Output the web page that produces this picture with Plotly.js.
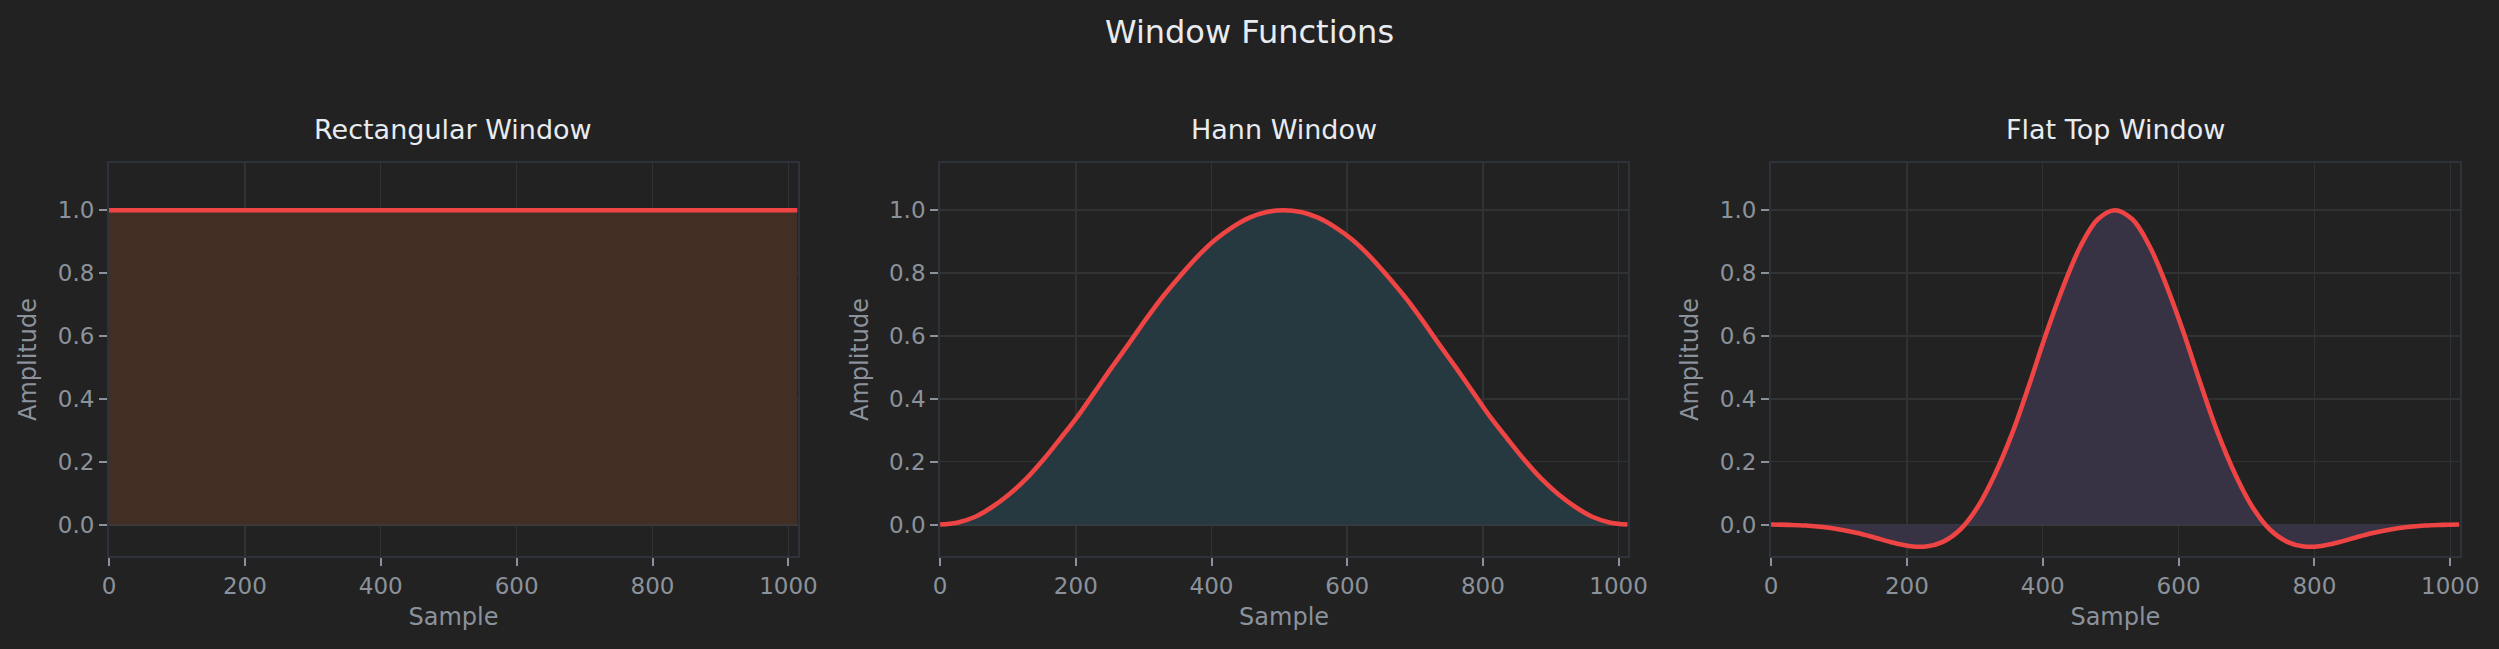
<!DOCTYPE html>
<html lang="en">
<head>
  <meta charset="UTF-8">
  <title>Window Functions</title>
  <script src="https://cdn.plot.ly/plotly-3.0.1.min.js" charset="utf-8"></script>
  <style>
    html, body { margin: 0; padding: 0; background: #222222; }
  </style>
</head>
<body>
  <div id="chart" style="width:2499px;height:649px;"></div>
  <script>
    // sample positions (0 .. ~1013)
    var samples = [0, 25, 51, 76, 101, 127, 152, 177, 203, 228, 253, 279, 304, 329, 355, 380, 405, 431, 456, 481,
                   506, 532, 557, 582, 608, 633, 658, 684, 709, 734, 760, 785, 810, 836, 861, 886, 912, 937, 962, 988, 1013];

    var rectangular = [1, 1, 1, 1, 1, 1, 1, 1, 1, 1, 1, 1, 1, 1, 1, 1, 1, 1, 1, 1,
                       1, 1, 1, 1, 1, 1, 1, 1, 1, 1, 1, 1, 1, 1, 1, 1, 1, 1, 1, 1, 1];

    var hann = [0.000, 0.006, 0.024, 0.055, 0.095, 0.146, 0.206, 0.273, 0.345, 0.422, 0.500, 0.578, 0.655, 0.727, 0.794, 0.854, 0.905, 0.946, 0.976, 0.994,
                1.000, 0.994, 0.976, 0.946, 0.905, 0.854, 0.794, 0.727, 0.655, 0.578, 0.500, 0.422, 0.345, 0.273, 0.206, 0.146, 0.095, 0.055, 0.024, 0.006, 0.000];

    var flatTop = [0.000, -0.001, -0.003, -0.008, -0.016, -0.027, -0.041, -0.056, -0.068, -0.070, -0.055, -0.015, 0.055, 0.157, 0.290, 0.444, 0.607, 0.761, 0.887, 0.971,
                   1.000, 0.971, 0.887, 0.761, 0.607, 0.444, 0.290, 0.157, 0.055, -0.015, -0.055, -0.070, -0.068, -0.056, -0.041, -0.027, -0.016, -0.008, -0.003, -0.001, 0.000];

    var panelTitles = ["Rectangular Window", "Hann Window", "Flat Top Window"];
    var panelValues = [rectangular, hann, flatTop];
    var fillColors = ["#422e22", "#263941", "#373345"];

    var lineRed = "#ef4444";
    var gray = "#8b929b";
    var font = "DejaVu Sans, sans-serif";

    // panel positions in paper fractions
    var xDomains = [[0.0436, 0.3193], [0.3762, 0.6515], [0.7087, 0.9843]];
    var yDomain = [0.1433, 0.7488];

    var data = [];
    var layout = {
      width: 2499,
      height: 649,
      margin: {l: 0, r: 0, t: 0, b: 0},
      paper_bgcolor: "#222222",
      plot_bgcolor: "#222222",
      showlegend: false,
      font: {family: font, color: gray},
      title: {text: "Window Functions", x: 0.5, xanchor: "center", y: 0.9507, yanchor: "middle",
              font: {family: font, size: 32, color: "#e8ebef"}},
      annotations: []
    };

    for (var i = 0; i < 3; i++) {
      var n = i === 0 ? "" : String(i + 1);
      data.push({
        x: samples,
        y: panelValues[i],
        xaxis: "x" + n,
        yaxis: "y" + n,
        type: "scatter",
        mode: "lines",
        line: {color: lineRed, width: 4.6, shape: "spline", smoothing: 1},
        fill: "tozeroy",
        fillcolor: fillColors[i],
        hoverinfo: "skip"
      });

      layout["xaxis" + n] = {
        domain: xDomains[i],
        anchor: "y" + n,
        range: [0, 1014],
        tick0: 0, dtick: 200,
        ticks: "outside", ticklen: 8, tickwidth: 2, tickcolor: gray,
        tickfont: {family: font, size: 23, color: gray},
        showgrid: true, gridcolor: "#313234", gridwidth: 1.5,
        zeroline: false,
        showline: true, mirror: true, linecolor: "#2e333b", linewidth: 2,
        title: {text: "Sample", font: {family: font, size: 24, color: gray}, standoff: 11}
      };
      layout["yaxis" + n] = {
        domain: yDomain,
        anchor: "x" + n,
        range: [-0.1, 1.15],
        tick0: 0, dtick: 0.2, tickformat: ".1f",
        ticks: "outside", ticklen: 8, tickwidth: 2, tickcolor: gray,
        tickfont: {family: font, size: 23, color: gray},
        showgrid: true, gridcolor: "#313234", gridwidth: 1.5,
        zeroline: true, zerolinecolor: "#3a3a3f", zerolinewidth: 2,
        showline: true, mirror: true, linecolor: "#2e333b", linewidth: 2,
        title: {text: "Amplitude", font: {family: font, size: 24, color: gray}, standoff: 14}
      };

      layout.annotations.push({
        text: panelTitles[i],
        xref: "paper", yref: "paper",
        x: (xDomains[i][0] + xDomains[i][1]) / 2, xanchor: "center",
        y: 0.8012, yanchor: "middle",
        showarrow: false,
        font: {family: font, size: 27, color: "#e8ebef"}
      });
    }

    Plotly.newPlot("chart", data, layout, {displayModeBar: false, staticPlot: true});
  </script>
</body>
</html>
